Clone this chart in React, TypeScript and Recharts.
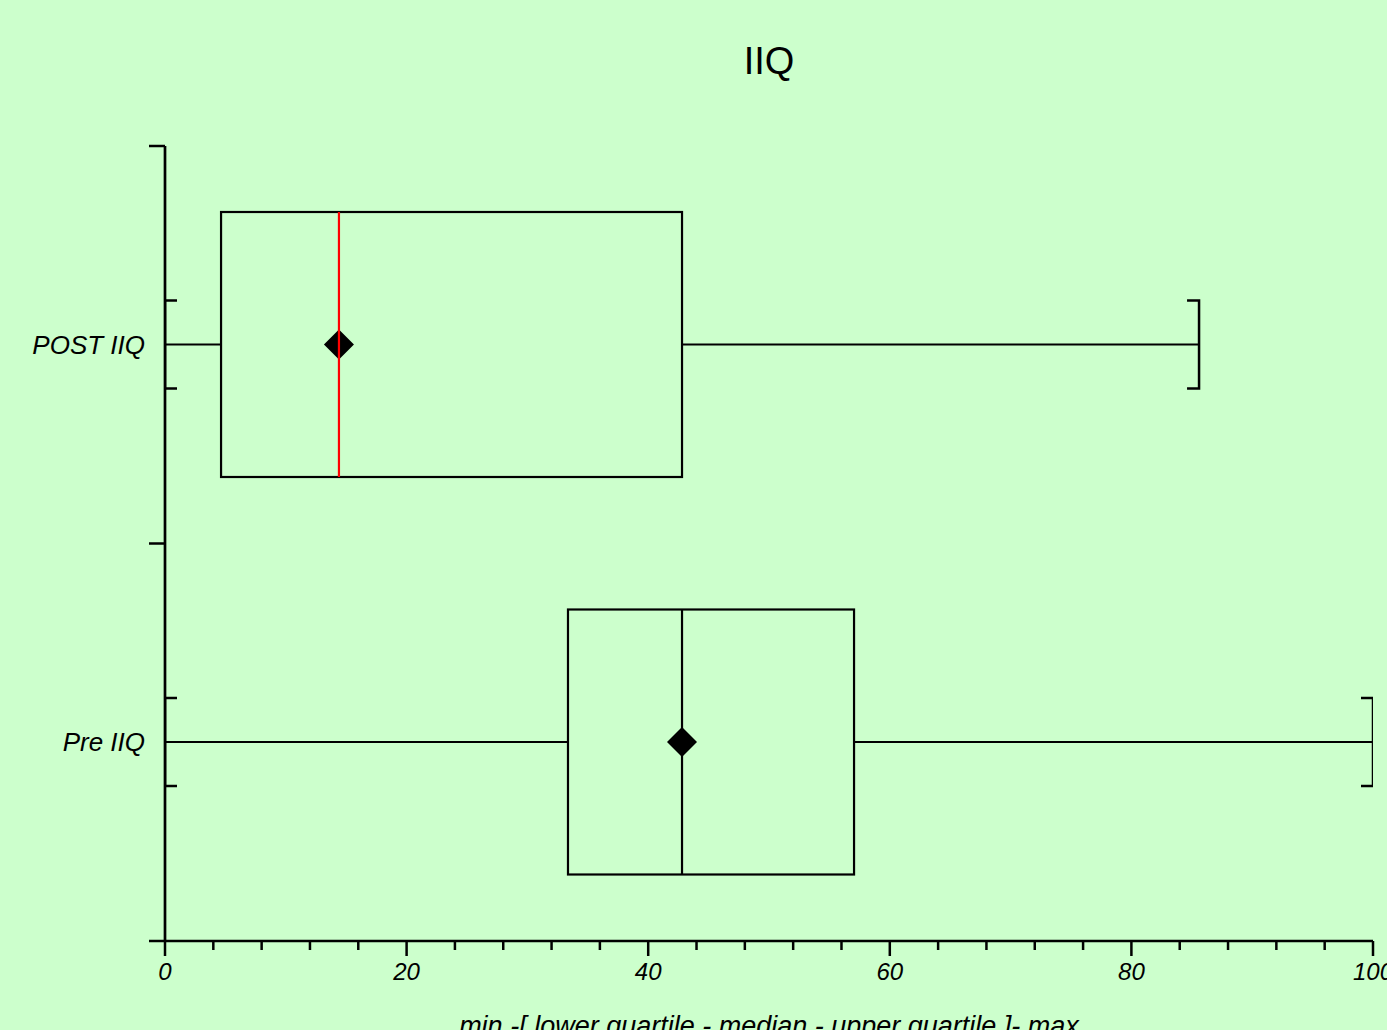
import React from 'react';
import { ComposedChart, Bar, XAxis, YAxis, Label } from 'recharts';

const categories = ['POST IIQ', 'Pre IIQ'];
const minValues = [0, 0];
const q1Values = [4.64, 33.36];
const medianValues = [14.4, 42.8];
const q3Values = [42.8, 57.04];
const maxValues = [85.6, 100];
const meanValues = [14.4, 42.8];
const medianColors = ['#FF0000', '#000000'];
const xTicks = [0, 4, 8, 12, 16, 20, 24, 28, 32, 36, 40, 44, 48, 52, 56, 60, 64, 68, 72, 76, 80, 84, 88, 92, 96, 100];
const xMajorTicks = [0, 20, 40, 60, 80, 100];
const chartTitle = 'IIQ';
const xAxisTitle = 'min -[ lower quartile - median - upper quartile ]- max';

const data = categories.map((name, i) => ({
  name,
  min: minValues[i],
  q1: q1Values[i],
  median: medianValues[i],
  q3: q3Values[i],
  max: maxValues[i],
  mean: meanValues[i],
  color: medianColors[i],
}));

const W = 1387;
const H = 1030;
const MARGIN = { top: 146, right: 14, bottom: 0, left: 0 };
const Y_AXIS_W = 165;
const X_AXIS_H = 89;
const PLOT_H = H - MARGIN.top - MARGIN.bottom - X_AXIS_H;
const FONT = '"Liberation Sans", Arial, Helvetica, sans-serif';
const BG = '#CCFFCC';
const LABEL_GAP = 20;
const SW = 2.2;

const BoxShape = (props: any) => {
  const { x, y, width, height, payload } = props;
  if (!payload) return null;
  const { min, max, q1, median, q3, mean, color } = payload;
  const px = (v: number) => x + ((v - min) / (max - min)) * width;
  const cy = y + height / 2;
  const cap = 44;
  const capTick = 12;
  const d = 15;
  const xMin = px(min);
  const xMax = px(max);
  const xq1 = px(q1);
  const xq3 = px(q3);
  const xMed = px(median);
  const xMean = px(mean);
  return (
    <g>
      <line x1={xMin} x2={xq1} y1={cy} y2={cy} stroke="#000" strokeWidth={SW} />
      <line x1={xq3} x2={xMax} y1={cy} y2={cy} stroke="#000" strokeWidth={SW} />
      <path
        d={`M${xMin + capTick},${cy - cap} L${xMin},${cy - cap} L${xMin},${cy + cap} L${xMin + capTick},${cy + cap}`}
        fill="none"
        stroke="#000"
        strokeWidth={SW + 0.3}
      />
      <path
        d={`M${xMax - capTick},${cy - cap} L${xMax},${cy - cap} L${xMax},${cy + cap} L${xMax - capTick},${cy + cap}`}
        fill="none"
        stroke="#000"
        strokeWidth={SW + 0.3}
      />
      <rect x={xq1} y={y} width={xq3 - xq1} height={height} fill="none" stroke="#000" strokeWidth={SW} />
      <path d={`M${xMean - d},${cy} L${xMean},${cy - d} L${xMean + d},${cy} L${xMean},${cy + d} Z`} fill="#000" />
      <line x1={xMed} x2={xMed} y1={y} y2={y + height} stroke={color} strokeWidth={SW} />
    </g>
  );
};

const CategoryTick = (props: any) => {
  const { x, y, payload, index } = props;
  const band = PLOT_H / categories.length;
  const axisX = x + LABEL_GAP;
  return (
    <g>
      <text
        x={x}
        y={y}
        textAnchor="end"
        dominantBaseline="central"
        fontStyle="italic"
        fontSize={26}
        fontFamily={FONT}
        fill="#000"
      >
        {payload.value}
      </text>
      <line x1={axisX - 16} x2={axisX} y1={y - band / 2} y2={y - band / 2} stroke="#000" strokeWidth={SW + 0.3} />
      {index === categories.length - 1 && (
        <line x1={axisX - 16} x2={axisX} y1={y + band / 2} y2={y + band / 2} stroke="#000" strokeWidth={SW + 0.3} />
      )}
    </g>
  );
};

const ValueTick = (props: any) => {
  const { x, y, payload } = props;
  const major = xMajorTicks.includes(payload.value);
  return (
    <g>
      <line x1={x} x2={x} y1={y} y2={y + (major ? 15 : 9)} stroke="#000" strokeWidth={SW + 0.3} />
      {major && (
        <text
          x={x}
          y={y + 30}
          textAnchor="middle"
          dominantBaseline="central"
          fontStyle="italic"
          fontSize={24}
          fontFamily={FONT}
          fill="#000"
        >
          {payload.value}
        </text>
      )}
    </g>
  );
};

const AxisTitle = (props: any) => {
  const vb = props.viewBox || {};
  return (
    <text
      x={vb.x + vb.width / 2}
      y={vb.y + 94}
      textAnchor="middle"
      fontStyle="italic"
      fontSize={27}
      fontFamily={FONT}
      fill="#000"
    >
      {xAxisTitle}
    </text>
  );
};

export default function App() {
  return (
    <div
      style={{
        position: 'absolute',
        left: 0,
        top: 0,
        width: W,
        height: H,
        background: BG,
        overflow: 'hidden',
      }}
    >
      <ComposedChart width={W} height={H} data={data} layout="vertical" margin={MARGIN}>
        <XAxis
          type="number"
          domain={[0, 100]}
          ticks={xTicks}
          interval={0}
          height={X_AXIS_H}
          tickSize={0}
          tickMargin={0}
          tick={<ValueTick />}
          axisLine={{ stroke: '#000', strokeWidth: SW + 0.5 }}
          tickLine={false}
          allowDataOverflow
        >
          <Label content={<AxisTitle />} />
        </XAxis>
        <YAxis
          type="category"
          dataKey="name"
          width={Y_AXIS_W}
          tickSize={0}
          tickMargin={LABEL_GAP}
          tick={<CategoryTick />}
          tickLine={false}
          axisLine={{ stroke: '#000', strokeWidth: SW + 0.5 }}
          interval={0}
        />
        <Bar
          dataKey={(d: any) => [d.min, d.max]}
          barSize={265}
          shape={<BoxShape />}
          isAnimationActive={false}
        />
      </ComposedChart>
      <svg
        width={W}
        height={120}
        style={{ position: 'absolute', left: 0, top: 0, pointerEvents: 'none' }}
      >
        <text x={769} y={74} textAnchor="middle" fontSize={38} fontFamily={FONT} fill="#000">
          {chartTitle}
        </text>
      </svg>
    </div>
  );
}
